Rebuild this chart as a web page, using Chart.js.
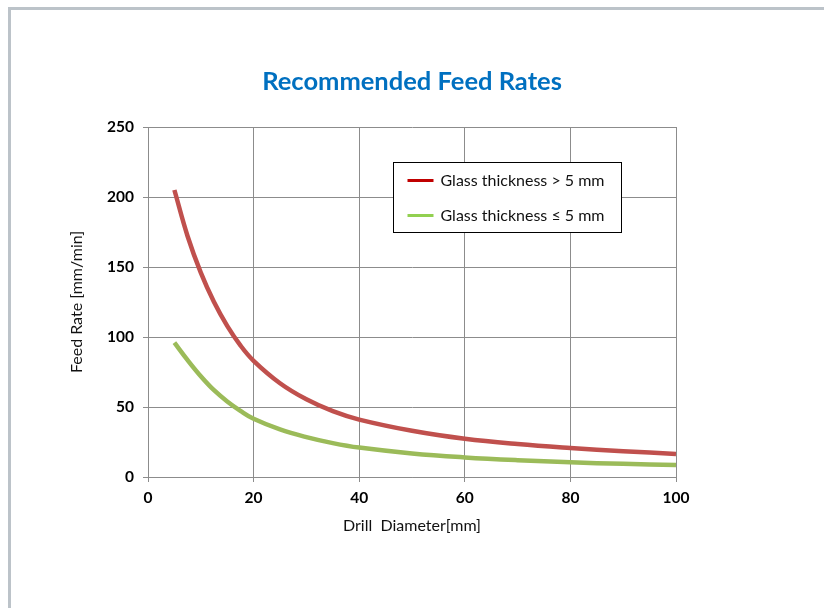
<!DOCTYPE html>
<html>
<head>
<meta charset="utf-8">
<script src="https://cdn.jsdelivr.net/npm/chart.js@4.4.0/dist/chart.umd.min.js"></script>
<style>
body{margin:0;background:#fff;}
#wrap{position:relative;width:824px;height:608px;overflow:hidden;}
#frame{position:absolute;left:8px;top:7px;width:900px;height:700px;border-left:3px solid #bcc3c9;border-top:3px solid #bcc3c9;}
canvas{position:absolute;left:0;top:0;}
</style>
</head>
<body>
<div id="wrap"><div id="frame"></div><canvas id="mycanvas" width="824" height="608"></canvas></div>
<script>
// values
var diameters=[5,7.5,10,12.5,15,17.5,20,25,30,35,40,50,60,70,80,90,100];
var thick=[205,172,146,125,108,94,83,67,55.5,47,41,33,27.3,23.5,20.7,18.4,16.5];
var thin=[96,83.5,72,62,54,47.3,41.6,34,28.5,24.2,21,16.8,14,12,10.5,9.4,8.6];
var labels=['Glass thickness > 5 mm','Glass thickness \u2264 5 mm'];

function pts(vals){
  var out=[];
  for(var i=0;i<diameters.length;i++){
    out.push({x:diameters[i],y:vals[i]});
  }
  return out;
}

// legend drawn inside the plot, like the original
var legendBox={
  id:'legendBox',
  afterDatasetsDraw:function(chart){
    var ctx=chart.ctx;
    var a=chart.chartArea;
    var x=a.left+245.5, y=a.top+35.5, w=228, h=70;
    ctx.save();
    ctx.fillStyle='#fff';
    ctx.fillRect(x,y,w,h);
    ctx.strokeStyle='#000';
    ctx.lineWidth=1;
    ctx.strokeRect(x,y,w,h);
    chart.data.datasets.forEach(function(ds,i){
      var ly=y+18+i*35;
      ctx.strokeStyle=ds.legendColor;
      ctx.lineWidth=3;
      ctx.beginPath();
      ctx.moveTo(x+14,ly);
      ctx.lineTo(x+40,ly);
      ctx.stroke();
      ctx.fillStyle='#111';
      ctx.font='16px Lato';
      ctx.textBaseline='middle';
      ctx.fillText(ds.label,x+47,ly);
    });
    ctx.restore();
  }
};

var gridColor='#8c8c8c';
var ctx=document.getElementById('mycanvas');
var chart=new Chart(ctx,{
  type:'line',
  data:{
    datasets:[
      {
        label:labels[0],
        data:pts(thick),
        borderColor:'#c0504d',
        legendColor:'#c00000',
        borderWidth:4.5,
        pointRadius:0,
        tension:0.4,
        fill:false
      },
      {
        label:labels[1],
        data:pts(thin),
        borderColor:'#9bbb59',
        legendColor:'#92d050',
        borderWidth:4.5,
        pointRadius:0,
        tension:0.4,
        fill:false
      }
    ]
  },
  options:{
    responsive:false,
    animation:false,
    devicePixelRatio:1,
    layout:{padding:{left:67,right:148,top:66,bottom:73}},
    plugins:{
      legend:{display:false},
      tooltip:{enabled:false},
      title:{
        display:true,
        fullSize:false,
        text:'Recommended Feed Rates',
        color:'#0070c0',
        font:{family:'Lato',size:25.5,weight:'bold'},
        padding:{top:0,bottom:30.4}
      }
    },
    scales:{
      x:{
        type:'linear',
        min:0,max:100,
        ticks:{stepSize:20,color:'#000',padding:7,font:{family:'Lato',size:15.5,weight:'bold'}},
        grid:{color:gridColor,tickLength:5},
        border:{color:gridColor},
        title:{display:true,text:'Drill  Diameter[mm]',color:'#111',padding:0,font:{family:'Lato',size:16}},
        afterFit:function(s){s.height=58;}
      },
      y:{
        min:0,max:250,
        ticks:{stepSize:50,color:'#000',padding:9,font:{family:'Lato',size:15.5,weight:'bold'}},
        grid:{color:gridColor,tickLength:5},
        border:{color:gridColor},
        title:{display:true,text:'Feed Rate [mm/min]',color:'#111',padding:0,font:{family:'Lato',size:16}},
        afterFit:function(s){s.width=81;}
      }
    }
  },
  plugins:[legendBox]
});
</script>
</body>
</html>
